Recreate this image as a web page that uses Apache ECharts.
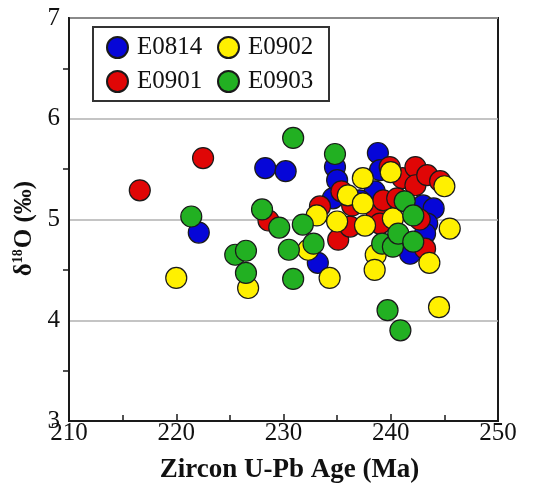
<!DOCTYPE html>
<html>
<head>
<meta charset="utf-8">
<title>Zircon U-Pb Age vs d18O</title>
<script src="https://cdn.jsdelivr.net/npm/echarts@6/dist/echarts.min.js"></script>
<style>
  html, body { margin: 0; padding: 0; background: #fff; }
  #main { width: 542px; height: 484px; }
</style>
</head>
<body>
<div id="main"></div>
<script>
// sample names, legend order follows the figure (2 per row)
var sampleNames = ['E0814', 'E0901', 'E0902', 'E0903'];
var legendOrder = ['E0814', 'E0902', 'E0901', 'E0903'];
var sampleColors = ['#0606d8', '#e00606', '#fff000', '#22b022'];

// zircon U-Pb age (Ma) and d18O (permil)
var ageE0814 = [222.1, 228.3, 230.2, 233.2, 234.8, 235.0, 234.6, 238.8, 239.0, 238.5, 237.1, 243.0, 244.0, 243.4, 243.2, 241.8];
var o18E0814 = [4.87, 5.51, 5.48, 4.57, 5.52, 5.39, 5.21, 5.66, 5.49, 5.28, 5.19, 5.14, 5.11, 4.96, 4.86, 4.66];

var ageE0901 = [216.6, 222.5, 228.6, 233.4, 235.1, 235.4, 236.2, 236.4, 238.7, 239.3, 239.9, 240.6, 241.1, 242.3, 242.3, 243.4, 244.6, 242.7, 243.2, 239.0];
var o18E0901 = [5.29, 5.61, 4.99, 5.13, 4.80, 5.28, 4.93, 5.14, 5.06, 5.19, 5.52, 5.21, 5.41, 5.52, 5.34, 5.44, 5.38, 5.00, 4.71, 4.96];

var ageE0902 = [220.0, 226.7, 232.3, 233.1, 234.3, 235.0, 236.0, 237.4, 237.4, 237.6, 240.0, 240.2, 238.6, 238.5, 243.6, 245.0, 245.5, 244.5];
var o18E0902 = [4.42, 4.32, 4.70, 5.04, 4.42, 4.98, 5.24, 5.41, 5.16, 4.94, 5.47, 5.01, 4.65, 4.50, 4.57, 5.33, 4.91, 4.13];

var ageE0903 = [221.4, 225.5, 226.5, 226.5, 228.0, 229.6, 230.9, 230.5, 230.9, 231.8, 232.8, 234.8, 239.2, 240.2, 240.7, 241.3, 242.1, 242.1, 239.7, 240.9];
var o18E0903 = [5.03, 4.65, 4.69, 4.47, 5.10, 4.92, 5.81, 4.70, 4.41, 4.95, 4.76, 5.65, 4.76, 4.73, 4.86, 5.18, 5.04, 4.78, 4.10, 3.90];

var ages = [ageE0814, ageE0901, ageE0902, ageE0903];
var o18s = [o18E0814, o18E0901, o18E0902, o18E0903];

var serif = '"Liberation Serif", "Times New Roman", serif';

var chart = echarts.init(document.getElementById('main'), null, { renderer: 'canvas' });

var series = sampleNames.map(function (name, i) {
  return {
    name: name,
    type: 'scatter',
    symbol: 'circle',
    symbolSize: 21,
    itemStyle: { color: sampleColors[i], borderColor: '#1a1a1a', borderWidth: 1.2, opacity: 1 },
    data: ages[i].map(function (a, k) { return [a, o18s[i][k]]; })
  };
});

var option = {
  animation: false,
  grid: {
    left: 69, right: 44, top: 18, bottom: 63,
    outerBoundsMode: 'none', containLabel: false,
    show: true, borderColor: '#1a1a1a', borderWidth: 2
  },
  legend: {
    data: legendOrder,
    left: 93, top: 27, width: 215,
    padding: [8, 10, 7, 13],
    itemGap: 9,
    itemWidth: 21, itemHeight: 21,
    icon: 'circle',
    borderColor: '#333', borderWidth: 2,
    textStyle: { fontFamily: serif, fontSize: 25, color: '#111', width: 71, lineHeight: 24, padding: [0, 0, 0, 4] }
  },
  xAxis: {
    type: 'value', min: 210, max: 250, interval: 10,
    name: 'Zircon U-Pb Age (Ma)', nameLocation: 'middle', nameGap: 36,
    nameTextStyle: { fontFamily: serif, fontSize: 27, fontWeight: 'bold', color: '#111', padding: [0, 0, 0, 12] },
    axisLine: { lineStyle: { color: '#1a1a1a', width: 2 } },
    axisTick: { inside: true, length: 7, lineStyle: { color: '#1a1a1a', width: 1.5 } },
    minorTick: { show: true, splitNumber: 2, length: 6, lineStyle: { color: '#1a1a1a', width: 1.5 } },
    axisLabel: { fontFamily: serif, fontSize: 25, color: '#111', margin: 0 },
    splitLine: { show: false }
  },
  yAxis: {
    type: 'value', min: 3, max: 7, interval: 1,
    name: '{b|δ}{sup|18}{b|O (‰)}', nameLocation: 'middle', nameGap: 29,
    nameTextStyle: {
      padding: [0, 18, 0, 0],
      rich: {
        b: { fontFamily: serif, fontSize: 25, fontWeight: 'bold', color: '#111' },
        sup: { fontFamily: serif, fontSize: 14, fontWeight: 'bold', color: '#111', verticalAlign: 'top', padding: [0, 1, 10, 0] }
      }
    },
    axisLine: { lineStyle: { color: '#1a1a1a', width: 2 } },
    axisTick: { show: false },
    minorTick: { show: true, splitNumber: 2, length: 6, lineStyle: { color: '#1a1a1a', width: 1.5 } },
    axisLabel: { fontFamily: serif, fontSize: 25, color: '#111', margin: 9 },
    splitLine: { show: true, lineStyle: { color: '#b0b0b0', width: 1.5 } }
  },
  series: series
};

chart.setOption(option);
</script>
</body>
</html>
